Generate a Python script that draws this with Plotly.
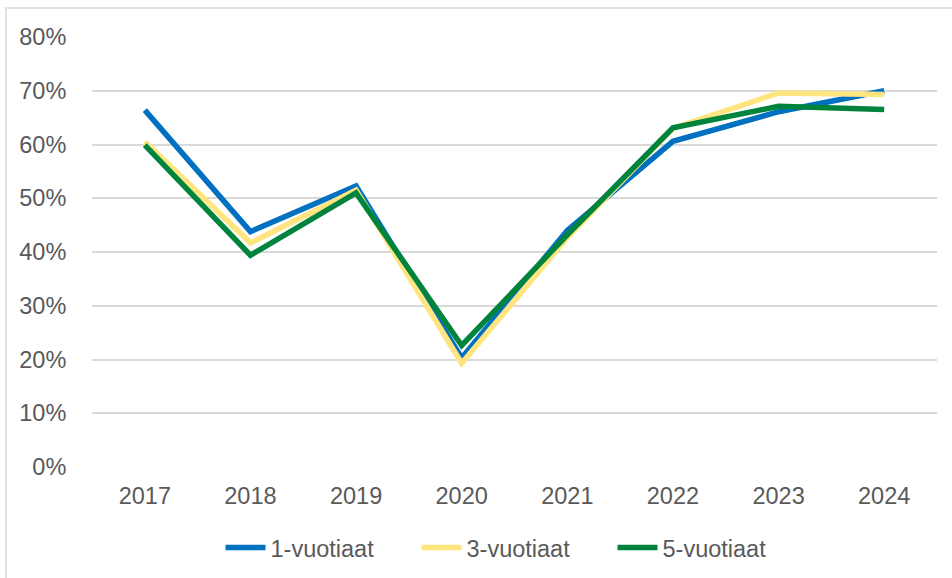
import plotly.graph_objects as go

years = ["2017", "2018", "2019", "2020", "2021", "2022", "2023", "2024"]
one_year = [0.664, 0.438, 0.523, 0.203, 0.440, 0.606, 0.661, 0.700]
three_year = [0.605, 0.417, 0.515, 0.193, 0.427, 0.630, 0.696, 0.693]
five_year = [0.599, 0.394, 0.510, 0.226, 0.432, 0.631, 0.671, 0.665]

series = [
    ("1-vuotiaat", one_year, "#0070C0"),
    ("3-vuotiaat", three_year, "#FFE57F"),
    ("5-vuotiaat", five_year, "#00843D"),
]

fig = go.Figure()
for name, vals, color in series:
    fig.add_trace(go.Scatter(
        x=years, y=vals, name=name, mode="lines",
        line=dict(color=color, width=5.5),
    ))

FS = 23.5
fig.update_layout(
    width=952, height=578,
    margin=dict(l=92, r=15, t=37, b=111, autoexpand=False),
    paper_bgcolor="white", plot_bgcolor="white",
    font=dict(family="Liberation Sans, Arial, sans-serif", size=FS, color="#595959"),
    showlegend=True,
    legend=dict(
        orientation="h", x=0.5, xanchor="center", y=-0.188, yanchor="middle",
        font=dict(size=FS, color="#595959"), itemwidth=40, tracegroupgap=0,
        entrywidth=141, entrywidthmode="pixels",
    ),
    xaxis=dict(
        type="category", range=[-0.5, 7.5], showgrid=False, zeroline=False,
        showline=False, ticks="outside", ticklen=8, tickcolor="white",
        tickfont=dict(size=FS, color="#595959"), automargin=False,
    ),
    yaxis=dict(
        range=[0, 0.8], dtick=0.1, tickformat=".0%",
        showgrid=True, gridcolor="#D9D9D9", gridwidth=1.5,
        zeroline=False, showline=False, ticks="outside", ticklen=20,
        tickcolor="white", tickfont=dict(size=FS, color="#595959"),
        automargin=False,
    ),
    shapes=[dict(
        type="rect", xref="paper", yref="paper",
        x0=(6 - 92) / 845, x1=1.1, y0=-0.4, y1=(467 - 8) / 430,
        line=dict(color="#D9D9D9", width=1.5), fillcolor="rgba(0,0,0,0)", layer="below",
    )],
)

fig.write_html("out.html", config={"displayModeBar": False},
               post_script="document.body.style.margin='0px';")
